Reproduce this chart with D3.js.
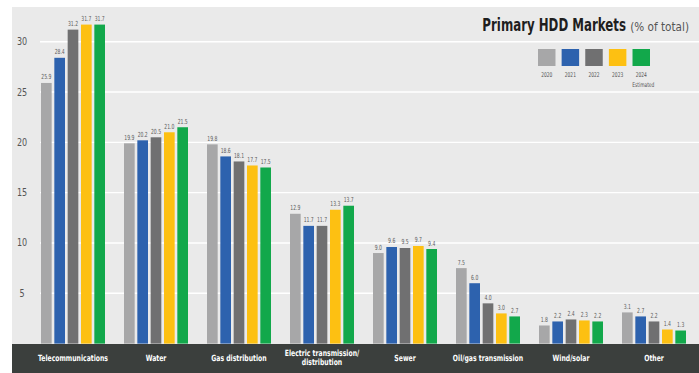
<!DOCTYPE html>
<html>
<head>
<meta charset="utf-8">
<script src="https://cdn.jsdelivr.net/npm/d3@7"></script>
<style>
  html, body { margin: 0; padding: 0; background: #ffffff; }
  svg { display: block; }
</style>
</head>
<body>
<svg id="chart" width="699" height="373"></svg>
<script>
// ---- Data ----
const categories = ["Telecommunications", "Water", "Gas distribution",
  "Electric transmission/ distribution", "Sewer", "Oil/gas transmission", "Wind/solar", "Other"];
const years = ["2020", "2021", "2022", "2023", "2024"];
const v2020 = [25.9, 19.9, 19.8, 12.9, 9.0, 7.5, 1.8, 3.1];
const v2021 = [28.4, 20.2, 18.6, 11.7, 9.6, 6.0, 2.2, 2.7];
const v2022 = [31.2, 20.5, 18.1, 11.7, 9.5, 4.0, 2.4, 2.2];
const v2023 = [31.7, 21.0, 17.7, 13.3, 9.7, 3.0, 2.3, 1.4];
const v2024 = [31.7, 21.5, 17.5, 13.7, 9.4, 2.7, 2.2, 1.3];
const yTicks = [5, 10, 15, 20, 25, 30];
const title = "Primary HDD Markets";
const subtitle = "(% of total)";

const seriesValues = [v2020, v2021, v2022, v2023, v2024];
const colors = ["#a7a7a8", "#2d62ae", "#707071", "#fdc012", "#12a84b"];

const svg = d3.select("#chart");
const W = 699, H = 373;
const panelX = 12, panelY = 7;
const bandTop = 344;
const narrow = "'Liberation Sans Narrow', 'DejaVu Sans Condensed', sans-serif";

// panel background
svg.append("rect").attr("x", panelX).attr("y", panelY)
  .attr("width", W - panelX).attr("height", H - panelY).attr("fill", "#eaeaea");

// scales
const y = d3.scaleLinear().domain([0, 30]).range([343.6, 41.7]);
const x0 = d3.scaleBand().domain(categories).range([31.5, 695.5])
  .paddingInner(19 / 83).paddingOuter(19 / 166);
const x1 = d3.scaleBand().domain(years).range([0, x0.bandwidth()]).paddingInner(0.2);

// gridlines
svg.append("g").selectAll("line").data(yTicks).join("line")
  .attr("x1", 40).attr("x2", W)
  .attr("y1", d => y(d)).attr("y2", d => y(d))
  .attr("stroke", "#ffffff").attr("stroke-width", 1.4);

// y axis labels
svg.append("g").selectAll("text").data(yTicks).join("text")
  .attr("transform", d => `translate(22,${y(d) + 3.5}) scale(0.85,1)`)
  .attr("text-anchor", "middle")
  .attr("font-family", narrow).attr("font-size", 10.5).attr("fill", "#555")
  .text(d => d);

// bars
const data = categories.map((c, i) => ({
  cat: c,
  vals: years.map((yr, j) => ({ year: yr, value: seriesValues[j][i], color: colors[j] }))
}));

const groups = svg.append("g").selectAll("g").data(data).join("g")
  .attr("transform", d => `translate(${x0(d.cat)},0)`);

groups.selectAll("rect").data(d => d.vals).join("rect")
  .attr("x", d => x1(d.year))
  .attr("width", x1.bandwidth())
  .attr("y", d => y(d.value))
  .attr("height", d => y(0) - y(d.value))
  .attr("fill", d => d.color);

groups.selectAll("text").data(d => d.vals).join("text")
  .attr("transform", d => `translate(${x1(d.year) + x1.bandwidth() / 2},${y(d.value) - 3.5}) scale(0.72,1)`)
  .attr("text-anchor", "middle")
  .attr("font-family", narrow).attr("font-size", 7)
  .attr("fill", "#5a5a5a")
  .text(d => d.value.toFixed(1));

// bottom dark band
svg.append("rect").attr("x", panelX).attr("y", bandTop)
  .attr("width", W - panelX).attr("height", H - bandTop).attr("fill", "#3b3f3d");

const catLabels = svg.append("g").selectAll("text").data(categories).join("text")
  .attr("text-anchor", "middle")
  .attr("font-family", narrow).attr("font-size", 8.5).attr("font-weight", "bold")
  .attr("fill", "#ffffff")
  .attr("transform", d => `translate(${x0(d) + x0.bandwidth() / 2},0) scale(0.8,1)`);
catLabels.each(function (d) {
  const parts = d.includes("/ ") ? [d.split("/ ")[0] + "/", d.split("/ ")[1]] : [d];
  const t = d3.select(this);
  if (parts.length === 1) {
    t.append("tspan").attr("x", 0).attr("y", 361.5).text(parts[0]);
  } else {
    t.append("tspan").attr("x", 0).attr("y", 356).text(parts[0]);
    t.append("tspan").attr("x", 0).attr("y", 365.5).text(parts[1]);
  }
});

// title (right-anchored, horizontally condensed)
svg.append("text")
  .attr("transform", "translate(626,31) scale(0.75,1)")
  .attr("text-anchor", "end")
  .attr("font-family", narrow).attr("font-size", 17.5).attr("font-weight", "bold")
  .attr("fill", "#1e1e1e").text(title);
svg.append("text")
  .attr("transform", "translate(689,31) scale(0.97,1)")
  .attr("text-anchor", "end")
  .attr("font-family", narrow).attr("font-size", 12)
  .attr("fill", "#555").text(subtitle);

// legend
const lx = d3.scaleBand().domain(years).range([538, 650]).paddingInner(0.26);
const lg = svg.append("g");
lg.selectAll("rect").data(years).join("rect")
  .attr("x", d => lx(d)).attr("y", 49)
  .attr("width", lx.bandwidth()).attr("height", 17)
  .attr("fill", (d, i) => colors[i]);
lg.selectAll("text.yr").data(years).join("text").attr("class", "yr")
  .attr("transform", d => `translate(${lx(d) + lx.bandwidth() / 2},77) scale(0.75,1)`)
  .attr("text-anchor", "middle").attr("font-family", narrow).attr("font-size", 6.5)
  .attr("fill", "#555").text(d => d);
lg.append("text")
  .attr("transform", `translate(${lx("2024") + lx.bandwidth() / 2 + 2},87) scale(0.75,1)`)
  .attr("text-anchor", "middle").attr("font-family", narrow).attr("font-size", 6.5)
  .attr("fill", "#555").text("Estimated");
</script>
</body>
</html>
